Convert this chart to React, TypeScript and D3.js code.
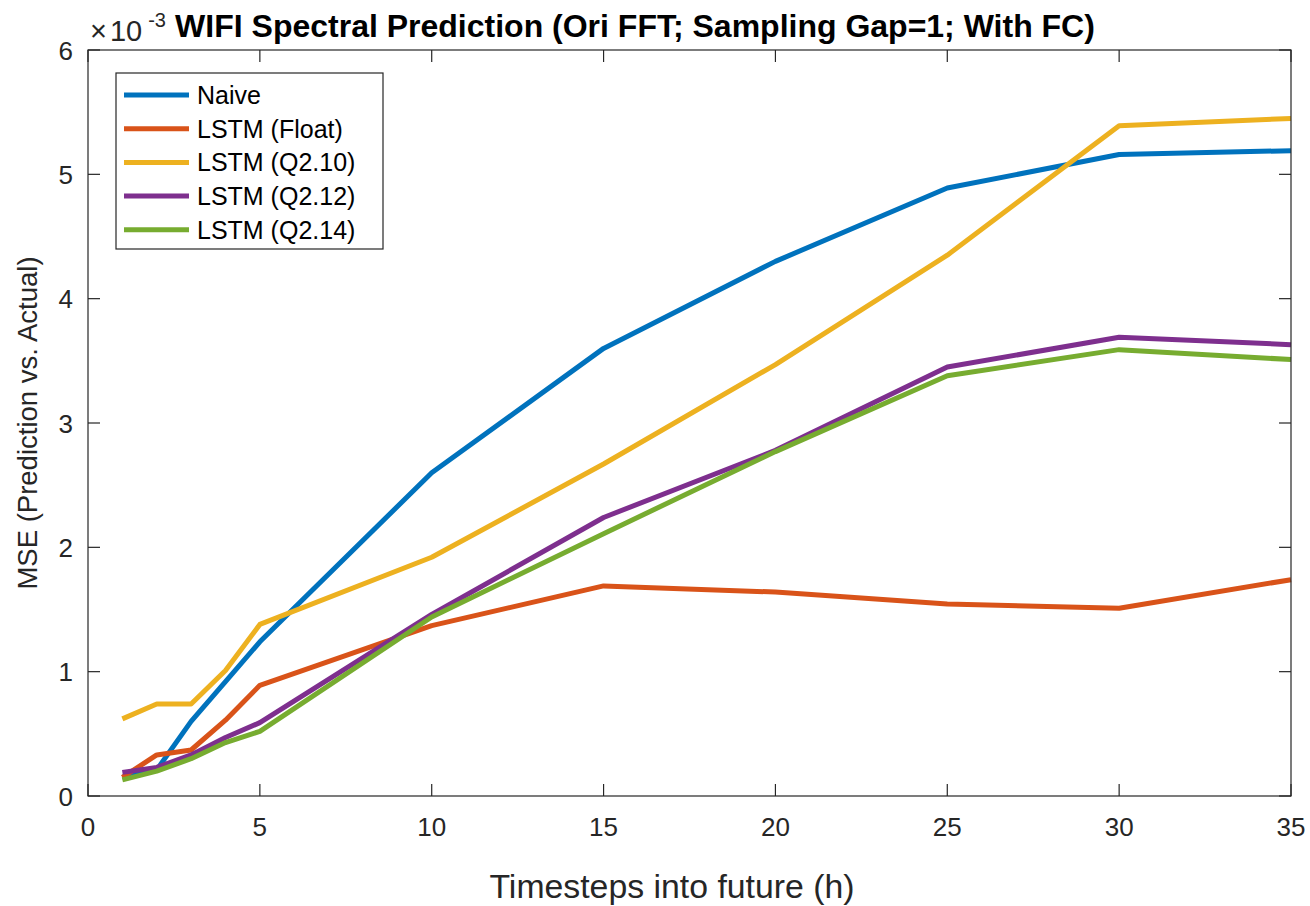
import React, { useEffect, useRef } from "react";
import * as d3 from "d3";

const STEPS = [1, 2, 3, 4, 5, 10, 15, 20, 25, 30, 35];

const NAIVE = [0.15, 0.21, 0.6, 0.92, 1.24, 2.6, 3.6, 4.3, 4.89, 5.16, 5.19];
const LSTM_FLOAT = [0.15, 0.33, 0.37, 0.61, 0.89, 1.37, 1.69, 1.64, 1.545, 1.51, 1.74];
const LSTM_Q210 = [0.62, 0.74, 0.74, 1.01, 1.38, 1.92, 2.67, 3.47, 4.35, 5.39, 5.45];
const LSTM_Q212 = [0.19, 0.23, 0.33, 0.47, 0.59, 1.46, 2.24, 2.78, 3.45, 3.69, 3.63];
const LSTM_Q214 = [0.13, 0.2, 0.3, 0.43, 0.52, 1.44, 2.11, 2.77, 3.38, 3.59, 3.51];

const SERIES_NAMES = ["Naive", "LSTM (Float)", "LSTM (Q2.10)", "LSTM (Q2.12)", "LSTM (Q2.14)"];
const SERIES_VALUES = [NAIVE, LSTM_FLOAT, LSTM_Q210, LSTM_Q212, LSTM_Q214];
const COLORS = ["#0072BD", "#D95319", "#EDB120", "#7E2F8E", "#77AC30"];

const X_TICKS = [0, 5, 10, 15, 20, 25, 30, 35];
const Y_TICKS = [0, 1, 2, 3, 4, 5, 6];

const WIDTH = 1310;
const HEIGHT = 906;
const M = { left: 88, right: 1291, top: 50, bottom: 796 };
const AXIS_COLOR = "#262626";
const FONT = "'Liberation Sans', Arial, Helvetica, sans-serif";

export default function App() {
  const svgRef = useRef<SVGSVGElement>(null);

  useEffect(() => {
    const svg = d3.select(svgRef.current);
    svg.selectAll("*").remove();

    const x = d3.scaleLinear().domain([0, 35]).range([M.left, M.right]);
    const y = d3.scaleLinear().domain([0, 6]).range([M.bottom, M.top]);

    svg.append("rect").attr("width", WIDTH).attr("height", HEIGHT).attr("fill", "#fff");

    // ── Lines ───────────────────────────────────────────────
    const line = d3
      .line<number>()
      .x((_d, i) => x(STEPS[i]))
      .y((d) => y(d));

    SERIES_VALUES.forEach((vals, i) => {
      svg
        .append("path")
        .attr("d", line(vals))
        .attr("fill", "none")
        .attr("stroke", COLORS[i])
        .attr("stroke-width", 5)
        .attr("stroke-linejoin", "round");
    });

    // ── Box and ticks ───────────────────────────────────────
    const frame = svg.append("g").attr("stroke", AXIS_COLOR).attr("stroke-width", 1.2);
    frame
      .append("rect")
      .attr("x", M.left)
      .attr("y", M.top)
      .attr("width", M.right - M.left)
      .attr("height", M.bottom - M.top)
      .attr("fill", "none");

    const TL = 12;
    X_TICKS.forEach((t) => {
      frame.append("line").attr("x1", x(t)).attr("x2", x(t)).attr("y1", M.bottom).attr("y2", M.bottom - TL);
      frame.append("line").attr("x1", x(t)).attr("x2", x(t)).attr("y1", M.top).attr("y2", M.top + TL);
      svg
        .append("text")
        .attr("x", x(t))
        .attr("y", 836)
        .attr("text-anchor", "middle")
        .attr("font-size", 26)
        .attr("fill", AXIS_COLOR)
        .text(t);
    });
    Y_TICKS.forEach((t) => {
      frame.append("line").attr("x1", M.left).attr("x2", M.left + TL).attr("y1", y(t)).attr("y2", y(t));
      frame.append("line").attr("x1", M.right).attr("x2", M.right - TL).attr("y1", y(t)).attr("y2", y(t));
      svg
        .append("text")
        .attr("x", 73)
        .attr("y", y(t) + 9.5)
        .attr("text-anchor", "end")
        .attr("font-size", 26)
        .attr("fill", AXIS_COLOR)
        .text(t);
    });

    // ── Exponent label ──────────────────────────────────────
    const expo = svg
      .append("text")
      .attr("x", 90)
      .attr("y", 41)
      .attr("font-size", 29)
      .attr("fill", AXIS_COLOR);
    expo.append("tspan").attr("font-weight", 300).text("\u00d7");
    expo.append("tspan").attr("dx", 3).text("10");
    expo.append("tspan").attr("dx", 6).attr("dy", -14).attr("font-size", 20).text("-3");

    // ── Title and axis labels ───────────────────────────────
    svg
      .append("text")
      .attr("x", 635)
      .attr("y", 37)
      .attr("text-anchor", "middle")
      .attr("font-size", 32)
      .attr("font-weight", "bold")
      .attr("fill", "#000")
      .text("WIFI Spectral Prediction (Ori FFT; Sampling Gap=1; With FC)");

    svg
      .append("text")
      .attr("x", 672)
      .attr("y", 898)
      .attr("text-anchor", "middle")
      .attr("font-size", 33.8)
      .attr("fill", AXIS_COLOR)
      .text("Timesteps into future (h)");

    svg
      .append("text")
      .attr("transform", `translate(37,${(M.top + M.bottom) / 2}) rotate(-90)`)
      .attr("text-anchor", "middle")
      .attr("font-size", 27.5)
      .attr("fill", AXIS_COLOR)
      .text("MSE (Prediction vs. Actual)");

    // ── Legend ──────────────────────────────────────────────
    const legend = svg.append("g");
    legend
      .append("rect")
      .attr("x", 116)
      .attr("y", 73)
      .attr("width", 267)
      .attr("height", 176)
      .attr("fill", "#fff")
      .attr("stroke", AXIS_COLOR)
      .attr("stroke-width", 1.2);

    SERIES_NAMES.forEach((name, i) => {
      const cy = 95 + i * 33.7;
      legend
        .append("line")
        .attr("x1", 124)
        .attr("x2", 189)
        .attr("y1", cy)
        .attr("y2", cy)
        .attr("stroke", COLORS[i])
        .attr("stroke-width", 5);
      legend
        .append("text")
        .attr("x", 197)
        .attr("y", cy + 9)
        .attr("font-size", 25)
        .attr("fill", "#000")
        .text(name);
    });
  }, []);

  return (
    <svg
      ref={svgRef}
      width={WIDTH}
      height={HEIGHT}
      style={{ display: "block", position: "absolute", left: 0, top: 0, fontFamily: FONT }}
    />
  );
}
